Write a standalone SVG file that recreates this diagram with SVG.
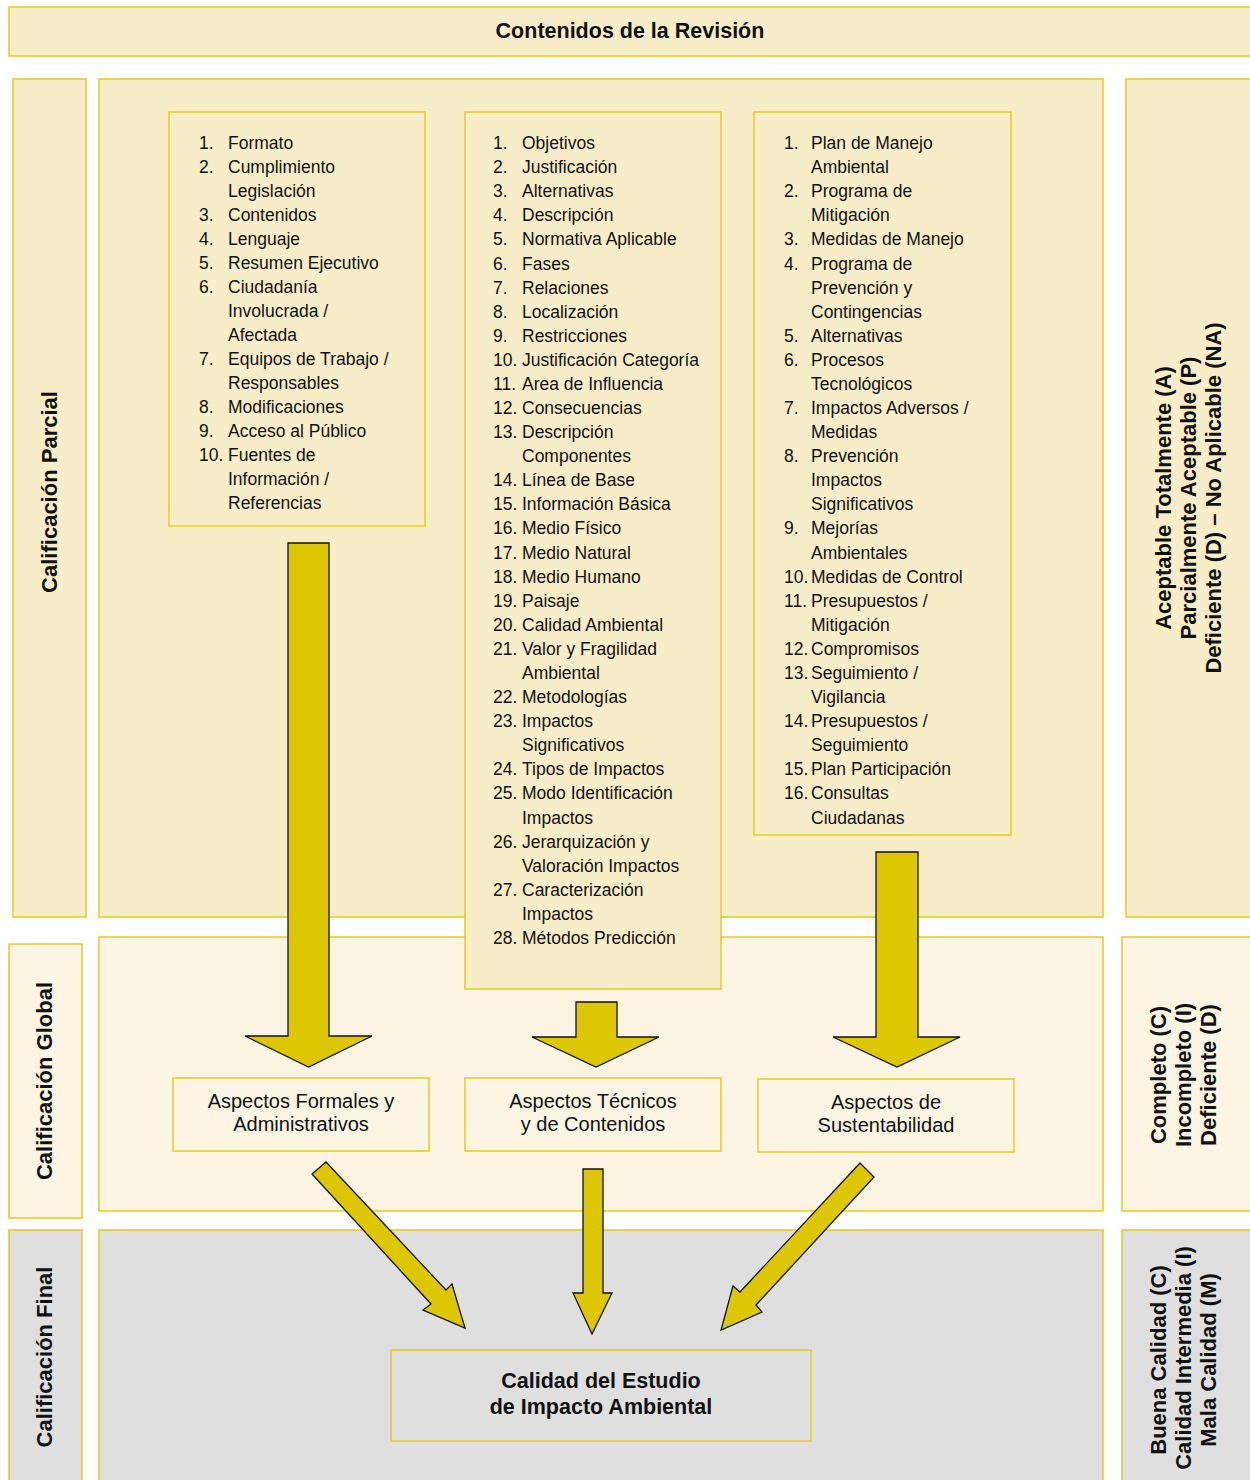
<svg xmlns="http://www.w3.org/2000/svg" width="1250" height="1480" viewBox="0 0 1250 1480">
<style>
.b1{fill:#F7EEC9;stroke:#E4CC1C;stroke-width:1.5}
.b2{fill:#FCF5E4;stroke:#E4CC1C;stroke-width:1.5}
.b3{fill:#DFDFDF;stroke:#E4CC1C;stroke-width:1.5}
.arr{fill:#DDC700;stroke:#111;stroke-width:1.3;stroke-linejoin:miter}
text{font-family:"Liberation Sans",Arial,sans-serif;fill:#111}
.li{font-size:17.5px}
.hd{font-size:21.5px;font-weight:bold}
.lbl{font-size:22px;font-weight:bold;text-anchor:middle}
.asp{font-size:20px;text-anchor:middle}
.fin{font-size:21.5px;font-weight:bold;text-anchor:middle}
</style>
<rect width="1250" height="1480" fill="#fff"/>
<g id="header"><rect class="b1" x="9" y="7" width="1245" height="49"/><text class="hd" x="630" y="38" text-anchor="middle">Contenidos de la Revisión</text></g>
<g id="row1">
<rect class="b1" x="13" y="79" width="73" height="838"/>
<rect class="b1" x="99" y="79" width="1004" height="838"/>
<rect class="b1" x="1126" y="79" width="128" height="838"/>
<text class="lbl" transform="translate(57,492) rotate(-90)">Calificación Parcial</text>
<text class="lbl" transform="translate(1171,498) rotate(-90)">Aceptable Totalmente (A)</text>
<text class="lbl" transform="translate(1196,498) rotate(-90)">Parcialmente Aceptable (P)</text>
<text class="lbl" transform="translate(1221,498) rotate(-90)">Deficiente (D) – No Aplicable (NA)</text>
</g>
<g id="row2">
<rect class="b2" x="9" y="944" width="73" height="274"/>
<rect class="b2" x="99" y="937" width="1004" height="274"/>
<rect class="b2" x="1122" y="937" width="132" height="274"/>
<text class="lbl" transform="translate(52,1081) rotate(-90)">Calificación Global</text>
<text class="lbl" transform="translate(1166,1075) rotate(-90)">Completo (C)</text>
<text class="lbl" transform="translate(1191,1075) rotate(-90)">Incompleto (I)</text>
<text class="lbl" transform="translate(1216,1075) rotate(-90)">Deficiente (D)</text>
</g>
<g id="row3">
<rect class="b3" x="9" y="1230" width="73" height="260"/>
<rect class="b3" x="99" y="1230" width="1004" height="260"/>
<rect class="b3" x="1122" y="1230" width="132" height="260"/>
<text class="lbl" transform="translate(52,1357) rotate(-90)">Calificación Final</text>
<text class="lbl" transform="translate(1166,1360) rotate(-90)">Buena Calidad (C)</text>
<text class="lbl" transform="translate(1191,1358) rotate(-90)">Calidad Intermedia (I)</text>
<text class="lbl" transform="translate(1216,1360) rotate(-90)">Mala Calidad (M)</text>
</g>
<g id="col1">
<rect class="b1" x="169" y="112" width="256" height="414"/>
<g class="li">
<text x="199" y="149">1.</text><text x="228" y="149">Formato</text>
<text x="199" y="173">2.</text><text x="228" y="173">Cumplimiento</text>
<text x="228" y="197">Legislación</text>
<text x="199" y="221">3.</text><text x="228" y="221">Contenidos</text>
<text x="199" y="245">4.</text><text x="228" y="245">Lenguaje</text>
<text x="199" y="269">5.</text><text x="228" y="269">Resumen Ejecutivo</text>
<text x="199" y="293">6.</text><text x="228" y="293">Ciudadanía</text>
<text x="228" y="317">Involucrada /</text>
<text x="228" y="341">Afectada</text>
<text x="199" y="365">7.</text><text x="228" y="365">Equipos de Trabajo /</text>
<text x="228" y="389">Responsables</text>
<text x="199" y="413">8.</text><text x="228" y="413">Modificaciones</text>
<text x="199" y="437">9.</text><text x="228" y="437">Acceso al Público</text>
<text x="199" y="461">10.</text><text x="228" y="461">Fuentes de</text>
<text x="228" y="485">Información /</text>
<text x="228" y="509">Referencias</text>
</g>
</g>
<g id="col2">
<rect class="b1" x="465" y="112" width="256" height="877"/>
<g class="li">
<text x="493" y="149">1.</text><text x="522" y="149">Objetivos</text>
<text x="493" y="173.1">2.</text><text x="522" y="173.1">Justificación</text>
<text x="493" y="197.2">3.</text><text x="522" y="197.2">Alternativas</text>
<text x="493" y="221.3">4.</text><text x="522" y="221.3">Descripción</text>
<text x="493" y="245.4">5.</text><text x="522" y="245.4">Normativa Aplicable</text>
<text x="493" y="269.5">6.</text><text x="522" y="269.5">Fases</text>
<text x="493" y="293.5">7.</text><text x="522" y="293.5">Relaciones</text>
<text x="493" y="317.6">8.</text><text x="522" y="317.6">Localización</text>
<text x="493" y="341.7">9.</text><text x="522" y="341.7">Restricciones</text>
<text x="493" y="365.8">10.</text><text x="522" y="365.8">Justificación Categoría</text>
<text x="493" y="389.9">11.</text><text x="522" y="389.9">Area de Influencia</text>
<text x="493" y="414">12.</text><text x="522" y="414">Consecuencias</text>
<text x="493" y="438.1">13.</text><text x="522" y="438.1">Descripción</text>
<text x="522" y="462.2">Componentes</text>
<text x="493" y="486.3">14.</text><text x="522" y="486.3">Línea de Base</text>
<text x="493" y="510.4">15.</text><text x="522" y="510.4">Información Básica</text>
<text x="493" y="534.4">16.</text><text x="522" y="534.4">Medio Físico</text>
<text x="493" y="558.5">17.</text><text x="522" y="558.5">Medio Natural</text>
<text x="493" y="582.6">18.</text><text x="522" y="582.6">Medio Humano</text>
<text x="493" y="606.7">19.</text><text x="522" y="606.7">Paisaje</text>
<text x="493" y="630.8">20.</text><text x="522" y="630.8">Calidad Ambiental</text>
<text x="493" y="654.9">21.</text><text x="522" y="654.9">Valor y Fragilidad</text>
<text x="522" y="679">Ambiental</text>
<text x="493" y="703.1">22.</text><text x="522" y="703.1">Metodologías</text>
<text x="493" y="727.2">23.</text><text x="522" y="727.2">Impactos</text>
<text x="522" y="751.3">Significativos</text>
<text x="493" y="775.3">24.</text><text x="522" y="775.3">Tipos de Impactos</text>
<text x="493" y="799.4">25.</text><text x="522" y="799.4">Modo Identificación</text>
<text x="522" y="823.5">Impactos</text>
<text x="493" y="847.6">26.</text><text x="522" y="847.6">Jerarquización y</text>
<text x="522" y="871.7">Valoración Impactos</text>
<text x="493" y="895.8">27.</text><text x="522" y="895.8">Caracterización</text>
<text x="522" y="919.9">Impactos</text>
<text x="493" y="944">28.</text><text x="522" y="944">Métodos Predicción</text>
</g>
</g>
<g id="col3">
<rect class="b1" x="754" y="112" width="257" height="723"/>
<g class="li">
<text x="784" y="149">1.</text><text x="811" y="149">Plan de Manejo</text>
<text x="811" y="173.1">Ambiental</text>
<text x="784" y="197.2">2.</text><text x="811" y="197.2">Programa de</text>
<text x="811" y="221.3">Mitigación</text>
<text x="784" y="245.4">3.</text><text x="811" y="245.4">Medidas de Manejo</text>
<text x="784" y="269.5">4.</text><text x="811" y="269.5">Programa de</text>
<text x="811" y="293.5">Prevención y</text>
<text x="811" y="317.6">Contingencias</text>
<text x="784" y="341.7">5.</text><text x="811" y="341.7">Alternativas</text>
<text x="784" y="365.8">6.</text><text x="811" y="365.8">Procesos</text>
<text x="811" y="389.9">Tecnológicos</text>
<text x="784" y="414">7.</text><text x="811" y="414">Impactos Adversos /</text>
<text x="811" y="438.1">Medidas</text>
<text x="784" y="462.2">8.</text><text x="811" y="462.2">Prevención</text>
<text x="811" y="486.3">Impactos</text>
<text x="811" y="510.4">Significativos</text>
<text x="784" y="534.4">9.</text><text x="811" y="534.4">Mejorías</text>
<text x="811" y="558.5">Ambientales</text>
<text x="784" y="582.6">10.</text><text x="811" y="582.6">Medidas de Control</text>
<text x="784" y="606.7">11.</text><text x="811" y="606.7">Presupuestos /</text>
<text x="811" y="630.8">Mitigación</text>
<text x="784" y="654.9">12.</text><text x="811" y="654.9">Compromisos</text>
<text x="784" y="679">13.</text><text x="811" y="679">Seguimiento /</text>
<text x="811" y="703.1">Vigilancia</text>
<text x="784" y="727.2">14.</text><text x="811" y="727.2">Presupuestos /</text>
<text x="811" y="751.3">Seguimiento</text>
<text x="784" y="775.3">15.</text><text x="811" y="775.3">Plan Participación</text>
<text x="784" y="799.4">16.</text><text x="811" y="799.4">Consultas</text>
<text x="811" y="823.5">Ciudadanas</text>
</g>
</g>
<g id="aspFormales"><rect class="b2" x="173" y="1078" width="256" height="73"/><text class="asp" x="301" y="1108">Aspectos Formales y</text><text class="asp" x="301" y="1131">Administrativos</text></g>
<g id="aspTecnicos"><rect class="b2" x="465" y="1078" width="256" height="73"/><text class="asp" x="593" y="1108">Aspectos Técnicos</text><text class="asp" x="593" y="1131">y de Contenidos</text></g>
<g id="aspSustent"><rect class="b2" x="758" y="1079" width="256" height="73"/><text class="asp" x="886" y="1109">Aspectos de</text><text class="asp" x="886" y="1132">Sustentabilidad</text></g>
<g id="final"><rect class="b3" x="391" y="1350" width="420" height="91"/><text class="fin" x="601" y="1388">Calidad del Estudio</text><text class="fin" x="601" y="1414">de Impacto Ambiental</text></g>
<g id="connectors">
<polygon class="arr" points="288,543 329,543 329,1036 372,1036 308.5,1067 245,1036 288,1036"/>
<polygon class="arr" points="576,1002 617,1002 617,1037 659,1037 596,1067 532,1037 576,1037"/>
<polygon class="arr" points="876,852 918,852 918,1037 960,1037 897,1067 833,1037 876,1037"/>
<polygon class="arr" points="583,1169 603,1169 603,1293 612,1293 592,1334 573,1293 583,1293"/>
<polygon class="arr" points="312,1174 326,1162 446,1290 452,1284 465,1328 423,1310 431,1304"/>
<polygon class="arr" points="860,1163 874,1177 756,1305 762,1312 721,1330 733,1286 740,1292"/>
</g>
</svg>
